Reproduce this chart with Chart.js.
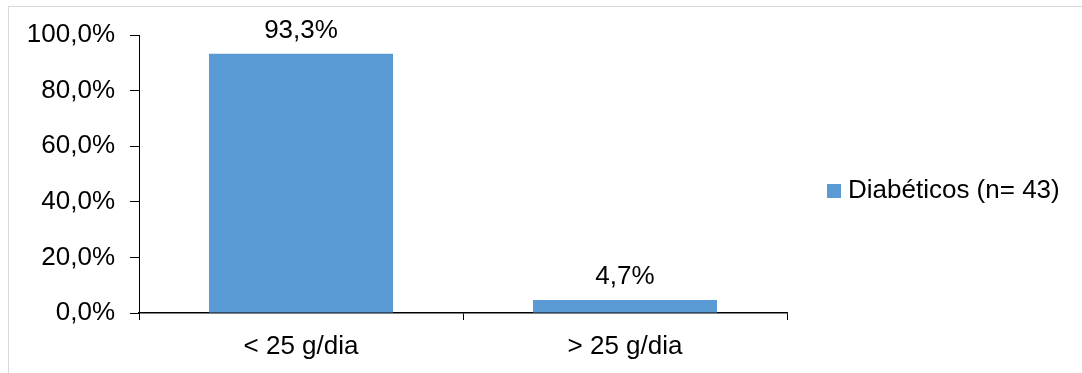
<!DOCTYPE html>
<html lang="pt">
<head>
<meta charset="utf-8">
<title>Consumo diário — Diabéticos</title>
<script src="https://cdn.jsdelivr.net/npm/chart.js@4/dist/chart.umd.min.js"></script>
<style>
  html, body { margin: 0; padding: 0; background: #ffffff; overflow: hidden; }
  #wrap { position: relative; width: 1082px; height: 373px; }
</style>
</head>
<body>
<div id="wrap"><canvas id="chart"></canvas></div>
<script>
// Data
const categories = ['< 25 g/dia', '> 25 g/dia'];
const diabeticos = [93.3, 4.7];
const seriesLabel = 'Diabéticos (n= 43)';
const yTicks = [0, 20, 40, 60, 80, 100];

const FONT = '"Liberation Sans", Arial, sans-serif';
const FONT_SIZE = 26;
const BAR_COLOR = '#5B9BD5';

const pct = v => v.toFixed(1).replace('.', ',') + '%';

// Light frame around the whole figure
const framePlugin = {
  id: 'frame',
  beforeDraw(chart) {
    const ctx = chart.ctx;
    ctx.save();
    ctx.strokeStyle = '#d9d9d9';
    ctx.lineWidth = 1;
    ctx.strokeRect(8.5, 6.5, 1200, 500);
    ctx.restore();
  }
};

// Value labels above bars
const valueLabels = {
  id: 'valueLabels',
  afterDatasetsDraw(chart) {
    const ctx = chart.ctx;
    ctx.save();
    ctx.font = FONT_SIZE + 'px ' + FONT;
    ctx.fillStyle = '#000';
    ctx.textAlign = 'center';
    ctx.textBaseline = 'middle';
    chart.data.datasets.forEach((ds, di) => {
      chart.getDatasetMeta(di).data.forEach((bar, i) => {
        ctx.fillText(pct(ds.data[i]), bar.x, bar.y - 23);
      });
    });
    ctx.restore();
  }
};

// Legend to the right of the plot
const sideLegend = {
  id: 'sideLegend',
  afterDraw(chart) {
    const ctx = chart.ctx;
    const ds = chart.data.datasets[0];
    const x = chart.chartArea.right + 40;
    const y = 191;
    ctx.save();
    ctx.fillStyle = ds.backgroundColor;
    ctx.fillRect(x, y - 7, 14, 14);
    ctx.font = FONT_SIZE + 'px ' + FONT;
    ctx.fillStyle = '#000';
    ctx.textAlign = 'left';
    ctx.textBaseline = 'middle';
    ctx.fillText(ds.label, x + 21, y);
    ctx.restore();
  }
};

new Chart(document.getElementById('chart'), {
  type: 'bar',
  data: {
    labels: categories,
    datasets: [{
      label: seriesLabel,
      data: diabeticos,
      backgroundColor: BAR_COLOR,
      borderWidth: 0,
      categoryPercentage: 1,
      barPercentage: 0.568
    }]
  },
  options: {
    responsive: true,
    maintainAspectRatio: false,
    animation: false,
    devicePixelRatio: 1,
    layout: { padding: { top: 35, right: 295, bottom: 0, left: 0 } },
    plugins: {
      legend: { display: false },
      tooltip: { enabled: false },
      title: { display: false }
    },
    scales: {
      x: {
        grid: {
          display: true,
          offset: true,
          drawOnChartArea: false,
          drawTicks: true,
          tickLength: 7,
          color: '#000',
          lineWidth: 1
        },
        border: { display: true, color: '#000', width: 1.5 },
        ticks: {
          color: '#000',
          font: { family: FONT, size: FONT_SIZE },
          padding: 11,
          maxRotation: 0
        },
        afterFit(scale) { scale.height = 60; }
      },
      y: {
        min: 0,
        max: 100,
        afterBuildTicks(scale) { scale.ticks = yTicks.map(v => ({ value: v })); },
        grid: {
          display: true,
          drawOnChartArea: false,
          drawTicks: true,
          tickLength: 9,
          color: '#000',
          lineWidth: 1
        },
        border: { display: true, color: '#000', width: 1 },
        ticks: {
          color: '#000',
          font: { family: FONT, size: FONT_SIZE },
          padding: 15,
          callback: v => pct(v)
        },
        afterFit(scale) { scale.width = 139; }
      }
    }
  },
  plugins: [framePlugin, valueLabels, sideLegend]
});
</script>
</body>
</html>
